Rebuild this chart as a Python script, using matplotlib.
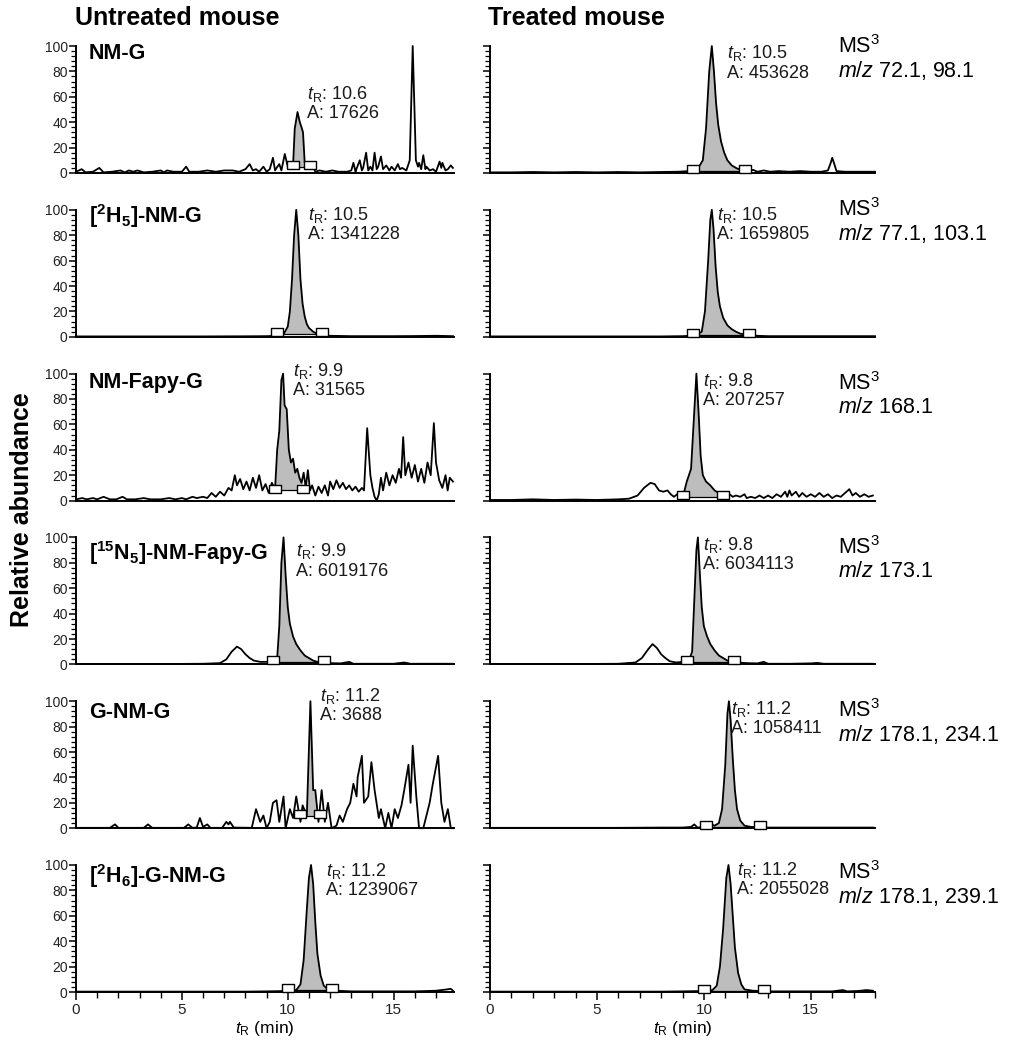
import numpy as np
import matplotlib
matplotlib.use('Agg')
import matplotlib.pyplot as plt
from matplotlib.ticker import MultipleLocator

plt.rcParams['font.family'] = ['Liberation Sans', 'DejaVu Sans']
plt.rcParams['mathtext.fontset'] = 'custom'
plt.rcParams['mathtext.rm'] = 'Liberation Sans'
plt.rcParams['mathtext.it'] = 'Liberation Sans:italic'
plt.rcParams['mathtext.bf'] = 'Liberation Sans:bold'

# ---------------- data ----------------
compounds = ["NM-G", r"$\mathbf{[^{2}H_{5}]}$-NM-G", "NM-Fapy-G",
             r"$\mathbf{[^{15}N_{5}]}$-NM-Fapy-G", "G-NM-G", r"$\mathbf{[^{2}H_{6}]}$-G-NM-G"]
transitions = ["72.1, 98.1", "77.1, 103.1", "168.1", "173.1", "178.1, 234.1", "178.1, 239.1"]

tr_untreated = ["10.6", "10.5", "9.9", "9.9", "11.2", "11.2"]
area_untreated = ["17626", "1341228", "31565", "6019176", "3688", "1239067"]
tr_treated = ["10.5", "10.5", "9.8", "9.8", "11.2", "11.2"]
area_treated = ["453628", "1659805", "207257", "6034113", "1058411", "2055028"]

# integration window: (start, end, baseline level)
integ_untreated = [(10.25, 11.05, 5), (9.5, 11.6, 2), (9.4, 10.7, 8),
                   (9.3, 11.7, 2), (10.6, 11.5, 10), (10.0, 12.1, 1.5)]
integ_treated = [(9.5, 11.9, 1.5), (9.5, 12.1, 1.5), (9.0, 10.9, 3),
                 (9.2, 11.4, 2), (10.1, 12.6, 1), (10.0, 12.8, 1)]

nmg_untreated = [(0,1),(0.27,3),(0.45,0.5),(0.8,1),(1.1,4),(1.3,0.5),(1.7,1),(2.1,2),(2.3,0.5),(2.5,2),
    (2.7,1),(2.9,2),(3.2,0.5),(3.6,1),(4.0,2),(4.15,0.5),(4.3,2),(4.6,1),(5.0,1),(5.2,5),(5.35,1),(5.8,1),
    (6.2,2),(6.6,1),(7.0,2),(7.4,2),(7.7,1),(8.0,3),(8.2,7),(8.35,2),(8.5,3),(8.65,1),(8.85,5),(9.0,1),
    (9.15,3),(9.3,12),(9.4,2),(9.47,4),(9.6,7),(9.7,2),(9.86,15),(10.0,5),(10.15,8),(10.25,6),(10.33,35),
    (10.46,48),(10.57,40),(10.65,36),(10.72,32),(10.8,8),(10.9,6),(10.96,8),(11.05,3),(11.2,5),(11.3,1),
    (11.5,2),(11.8,1),(12.1,2),(12.4,1),(12.8,1),(13.0,2),(13.1,8),(13.2,1),(13.24,3),(13.4,10),(13.5,2),
    (13.56,4),(13.7,16),(13.8,2),(13.9,5),(14.0,2),(14.1,16),(14.2,3),(14.27,5),(14.4,13),(14.5,3),
    (14.65,6),(14.8,2),(14.9,5),(15.05,2),(15.2,7),(15.3,3),(15.4,4),(15.6,2),(15.76,10),(15.9,100),
    (16.05,10),(16.15,5),(16.2,8),(16.3,3),(16.4,14),(16.5,3),(16.55,5),(16.7,2),(16.86,3),(17.0,1),
    (17.17,9),(17.25,4),(17.3,8),(17.45,2),(17.56,3),(17.7,6),(17.8,4)]

nmg_treated = [(0,0.5),(1,0.5),(2,0.8),(3,0.5),(4,0.8),(5,0.5),(6,0.8),(7,0.5),(8,0.8),(8.8,1),(9.3,1.5),
    (9.7,3),(9.95,10),(10.1,35),(10.25,80),(10.37,100),(10.47,80),(10.57,55),(10.67,38),(10.8,25),
    (10.95,16),(11.1,10),(11.3,6),(11.5,4),(11.7,2.5),(11.9,2),(12.1,1),(12.3,2.5),(12.5,1),(12.8,2),
    (13.1,1),(13.5,1.5),(14.0,1),(14.5,1.5),(15.0,1),(15.5,1),(15.8,2),(15.93,8),(16.0,12),(16.08,8),
    (16.2,1.5),(16.6,1),(17.0,1),(17.5,1),(18.0,1)]

d5nmg_untreated = [(0,0.3),(2,0.3),(4,0.3),(6,0.3),(8,0.4),(9,0.5),(9.5,0.8),(9.8,2),(10.0,8),(10.1,20),
    (10.2,45),(10.3,80),(10.4,100),(10.5,80),(10.6,45),(10.7,26),(10.8,16),(10.9,10),(11.0,7),(11.2,4),
    (11.5,1.5),(12,0.8),(13,0.5),(14,0.5),(15,0.5),(16,0.6),(17,0.8),(17.8,0.5)]

d5nmg_treated = [(0,0.3),(2,0.3),(4,0.3),(6,0.3),(8,0.3),(9,0.5),(9.6,1),(9.9,4),(10.05,20),(10.2,60),
    (10.3,92),(10.37,100),(10.45,85),(10.55,55),(10.65,35),(10.75,24),(10.9,15),(11.1,9),(11.3,6),
    (11.5,4),(11.7,2.5),(12.0,1.5),(12.5,0.8),(13,0.5),(14,0.5),(15,0.5),(16,0.5),(17,0.5),(18,0.5)]

fapy_untreated = [(0,1),(0.3,2),(0.5,1),(0.8,2),(1.0,1),(1.3,3),(1.6,1),(1.9,1),(2.2,3),(2.4,1),(2.8,1),
    (3.2,2),(3.5,1),(4.0,1),(4.4,2),(4.7,1),(5.0,2),(5.2,1),(5.5,3),(5.7,2),(6.0,3),(6.2,2),(6.4,6),
    (6.6,3),(6.8,7),(7.0,4),(7.2,10),(7.35,8),(7.5,20),(7.6,12),(7.75,17),(7.9,9),(8.05,15),(8.2,8),
    (8.35,18),(8.5,10),(8.65,20),(8.8,8),(8.95,13),(9.1,6),(9.25,14),(9.4,9),(9.5,40),(9.6,55),(9.7,95),
    (9.78,100),(9.85,75),(9.95,72),(10.05,40),(10.15,30),(10.25,33),(10.35,22),(10.45,25),(10.55,18),
    (10.65,14),(10.75,22),(10.85,10),(10.95,24),(11.05,8),(11.15,12),(11.3,4),(11.45,11),(11.6,6),
    (11.75,12),(11.9,4),(12.0,15),(12.15,9),(12.3,16),(12.45,10),(12.6,14),(12.75,9),(12.9,12),
    (13.05,8),(13.2,11),(13.35,7),(13.5,10),(13.6,8),(13.75,57),(13.9,20),(14.0,10),(14.1,3),(14.2,0),
    (14.3,5),(14.4,18),(14.5,8),(14.65,22),(14.8,12),(14.95,20),(15.1,14),(15.25,25),(15.35,18),
    (15.45,50),(15.55,20),(15.7,30),(15.85,18),(16.0,28),(16.15,15),(16.3,25),(16.45,14),(16.6,30),
    (16.75,20),(16.9,61),(17.0,30),(17.15,16),(17.3,10),(17.45,20),(17.55,8),(17.65,18),(17.8,15)]

fapy_treated = [(0,0.5),(1,0.5),(2,1),(3,0.5),(4,0.8),(5,0.5),(6,1),(6.5,1.5),(6.9,4),(7.2,10),(7.5,14),
    (7.7,13),(7.9,8),(8.1,7),(8.3,8),(8.45,5),(8.6,3),(8.75,5),(8.9,3),(9.05,5),(9.2,15),(9.4,25),
    (9.55,70),(9.65,100),(9.75,70),(9.85,35),(9.95,20),(10.1,15),(10.3,12),(10.5,8),(10.7,6),(10.9,4),
    (11.0,3),(11.2,5),(11.35,3),(11.5,4),(11.7,3),(11.9,5),(12.0,2),(12.2,3),(12.4,2),(12.6,4),(12.8,2),
    (13.0,4),(13.2,2),(13.4,5),(13.6,3),(13.8,7),(13.9,3),(14.0,8),(14.1,4),(14.3,7),(14.45,3),(14.6,6),
    (14.8,3),(15.0,5),(15.2,3),(15.4,6),(15.6,3),(15.8,5),(16.0,2),(16.2,4),(16.4,3),(16.6,6),(16.8,9),
    (16.95,4),(17.1,6),(17.3,3),(17.5,5),(17.7,3),(17.9,4)]

n15fapy_untreated = [(0,0.3),(2,0.3),(4,0.3),(6,0.5),(6.8,1),(7.1,4),(7.35,10),(7.6,14),(7.8,12),(8.0,8),
    (8.2,5),(8.4,3),(8.7,2),(9.0,2),(9.3,2),(9.5,5),(9.6,30),(9.7,80),(9.8,100),(9.9,70),(10.0,45),
    (10.1,32),(10.25,22),(10.4,16),(10.6,11),(10.8,7),(11.0,5),(11.2,3),(11.4,2),(11.7,1.5),(12,1),
    (12.5,0.8),(12.9,2),(13.1,0.5),(14,0.5),(15.0,0.5),(15.5,1.5),(15.8,0.5),(16.5,0.5),(17.8,0.5)]

n15fapy_treated = [(0,0.3),(2,0.3),(4,0.3),(6,0.5),(6.8,1.5),(7.1,5),(7.4,12),(7.6,16),(7.8,13),(8.0,8),
    (8.2,5),(8.4,2.5),(8.7,1.5),(9.0,2),(9.3,3),(9.45,10),(9.55,50),(9.65,90),(9.72,100),(9.8,75),
    (9.9,45),(10.0,30),(10.15,22),(10.3,16),(10.5,11),(10.7,7),(10.9,5),(11.1,3),(11.3,2),(11.6,1.5),
    (12,1),(12.5,0.8),(12.8,2),(13.0,0.5),(14,0.5),(15.0,0.8),(15.3,1.2),(15.6,0.5),(16.5,0.5),(17.9,0.5)]

gnmg_untreated = [(0,0.3),(1.6,0.3),(1.84,3),(2.0,0.3),(3.2,0.3),(3.4,3),(3.6,0.3),(5.1,0.3),(5.3,3),
    (5.5,0.3),(5.7,0.5),(5.85,8),(6.0,1),(6.2,3),(6.35,0.3),(6.9,0.3),(7.1,5),(7.2,3),(7.27,5),(7.45,0.5),
    (8.3,0.3),(8.5,15),(8.7,5),(8.85,10),(9.0,0),(9.15,5),(9.3,20),(9.47,22),(9.6,5),(9.8,25),(9.9,0),
    (10.1,15),(10.25,8),(10.4,25),(10.6,5),(10.7,18),(10.9,10),(11.07,100),(11.2,30),(11.3,30),(11.45,5),
    (11.6,30),(11.75,5),(11.9,20),(12.07,0),(12.3,2),(12.45,10),(12.6,5),(12.8,15),(12.95,20),(13.1,35),
    (13.25,25),(13.3,40),(13.5,57),(13.6,20),(13.8,25),(13.95,52),(14.1,30),(14.3,8),(14.4,15),(14.6,0),
    (14.75,12),(14.9,0),(15.05,15),(15.2,8),(15.37,18),(15.5,30),(15.7,50),(15.8,20),(15.9,65),
    (16.07,25),(16.2,0),(16.4,0),(16.7,20),(16.85,35),(17.1,57),(17.25,20),(17.4,5),(17.56,15),(17.7,0),
    (17.8,0)]

gnmg_treated = [(0,0.3),(2,0.3),(4,0.3),(6,0.3),(8,0.5),(9.0,0.5),(9.4,1),(9.55,3),(9.7,0.5),(10.0,1),
    (10.2,2.5),(10.35,3),(10.5,2),(10.7,4),(10.85,15),(11.0,50),(11.1,90),(11.17,100),(11.25,85),
    (11.35,55),(11.45,30),(11.55,15),(11.7,6),(11.9,2),(12.2,1),(12.6,0.8),(13,0.5),(14,0.5),(15,0.5),
    (16,0.5),(17,0.5),(17.9,0.5)]

d6gnmg_untreated = [(0,0.3),(2,0.3),(4,0.3),(6,0.3),(8,0.3),(9,0.5),(10,0.8),(10.4,1.5),(10.6,6),
    (10.75,25),(10.9,65),(11.0,90),(11.1,100),(11.2,85),(11.3,55),(11.4,30),(11.55,13),(11.7,5),
    (11.9,2),(12.3,1),(13,0.5),(14,0.5),(15,0.5),(16,0.5),(17,1),(17.5,2),(17.7,2.5),(17.8,1)]

d6gnmg_treated = [(0,0.3),(2,0.3),(4,0.3),(6,0.3),(8,0.3),(9,0.5),(10,0.8),(10.4,1.5),(10.6,5),
    (10.75,20),(10.9,50),(11.05,90),(11.15,100),(11.25,85),(11.35,60),(11.45,35),(11.6,15),(11.75,6),
    (11.9,2),(12.3,1),(13,0.5),(14,0.5),(15,0.5),(16,0.5),(16.5,1.5),(16.7,0.5),(17.2,0.8),(17.6,1.5),
    (17.9,1)]

traces_untreated = [nmg_untreated, d5nmg_untreated, fapy_untreated, n15fapy_untreated,
                    gnmg_untreated, d6gnmg_untreated]
traces_treated = [nmg_treated, d5nmg_treated, fapy_treated, n15fapy_treated,
                  gnmg_treated, d6gnmg_treated]

# ---------------- layout ----------------
W, H = 1016, 1050
fig = plt.figure(figsize=(W / 100, H / 100), dpi=100)
col_x = [76, 490]
col_w = [378, 385]
col_xmax = [17.85, 18.0]
row_top0, row_step, row_h = 46, 163.8, 127

label_y = [94, 95, 93, 88, 91, 91]
annot_untreated = [(10.9, 70), (10.95, 104), (10.25, 110), (10.4, 97), (11.5, 112), (11.8, 103)]
annot_treated = [(11.1, 102), (10.6, 104), (9.95, 102), (9.95, 102), (11.25, 102), (11.55, 104)]
ms_offset = [1, 0, 10, 10, 9, 8]

rect_marker = [(-1.4, -1), (1.4, -1), (1.4, 1), (-1.4, 1), (-1.4, -1)]
fill_col = '#bdbdbd'
tick_col = '#222222'
txt_col = '#1a1a1a'

for r in range(6):
    for c in range(2):
        top = row_top0 + r * row_step
        ax = fig.add_axes([col_x[c] / W, 1 - (top + row_h) / H, col_w[c] / W, row_h / H])
        trace = traces_untreated[r] if c == 0 else traces_treated[r]
        integ = integ_untreated[r] if c == 0 else integ_treated[r]
        t = np.array([p[0] for p in trace], float)
        y = np.array([p[1] for p in trace], float)
        s, e, lvl = integ
        m = (t > s) & (t < e)
        ft = np.concatenate([[s], t[m], [e]])
        fy = np.concatenate([[np.interp(s, t, y)], y[m], [np.interp(e, t, y)]])
        ax.fill_between(ft, fy, lvl, color=fill_col, lw=0, zorder=2)
        ax.plot(t, y, color='black', lw=1.3, zorder=3, clip_on=False)
        ax.plot([s, e], [lvl, lvl], color='black', lw=0.9, zorder=3)
        ax.plot([s, e], [lvl + 1.5, lvl + 1.5], ls='none', marker=rect_marker, ms=9, mfc='white',
                mec='black', mew=1.0, zorder=4, clip_on=False)

        ax.set_xlim(0, col_xmax[c])
        ax.set_ylim(0, 100)
        for sp in ['top', 'right']:
            ax.spines[sp].set_visible(False)
        for sp in ['left', 'bottom']:
            ax.spines[sp].set_linewidth(1.4)
        ax.yaxis.set_major_locator(MultipleLocator(20))
        ax.yaxis.set_minor_locator(MultipleLocator(4))
        ax.tick_params(axis='y', which='major', direction='out', length=5, width=1.1,
                       labelsize=10, pad=1, labelcolor=tick_col)
        ax.tick_params(axis='y', which='minor', direction='out', length=3.5, width=0.9)
        if c == 1:
            ax.tick_params(axis='y', labelleft=False)
        if r < 5:
            ax.tick_params(axis='x', which='both', bottom=False, labelbottom=False)
        else:
            ax.xaxis.set_major_locator(MultipleLocator(5))
            ax.xaxis.set_minor_locator(MultipleLocator(1))
            ax.tick_params(axis='x', which='major', direction='out', length=6, width=1.1,
                           labelsize=11, pad=2, labelcolor=tick_col)
            ax.tick_params(axis='x', which='minor', direction='out', length=4.5, width=1.0)
            ax.set_xlabel(r'$t_{\rm R}$ (min)', fontsize=12.5, labelpad=1)

        if c == 0:
            ax.text(0.6, label_y[r], compounds[r], fontsize=15.5, fontweight='bold',
                    va='center', ha='left')
            ax.text(annot_untreated[r][0], annot_untreated[r][1],
                    '$t_{\\rm R}$: ' + tr_untreated[r] + '\nA: ' + area_untreated[r],
                    fontsize=13, va='top', ha='left', linespacing=1.1, color=txt_col)
        else:
            ax.text(annot_treated[r][0], annot_treated[r][1],
                    '$t_{\\rm R}$: ' + tr_treated[r] + '\nA: ' + area_treated[r],
                    fontsize=13, va='top', ha='left', linespacing=1.1, color=txt_col)
            yc = top + ms_offset[r]
            fig.text(838 / W, 1 - yc / H, 'MS$^{3}$', fontsize=15.5, va='center', ha='left')
            fig.text(838 / W, 1 - (yc + 24) / H, '$m/z$ ' + transitions[r], fontsize=15.5,
                     va='center', ha='left')

fig.text(75 / W, 1 - 18 / H, 'Untreated mouse', fontsize=18, fontweight='bold',
         va='center', ha='left')
fig.text(488 / W, 1 - 18 / H, 'Treated mouse', fontsize=18, fontweight='bold',
         va='center', ha='left')
fig.text(22 / W, 1 - 510 / H, 'Relative abundance', fontsize=18, fontweight='bold',
         rotation=90, va='center', ha='center')

fig.savefig('out.png', dpi=100, facecolor='white')
